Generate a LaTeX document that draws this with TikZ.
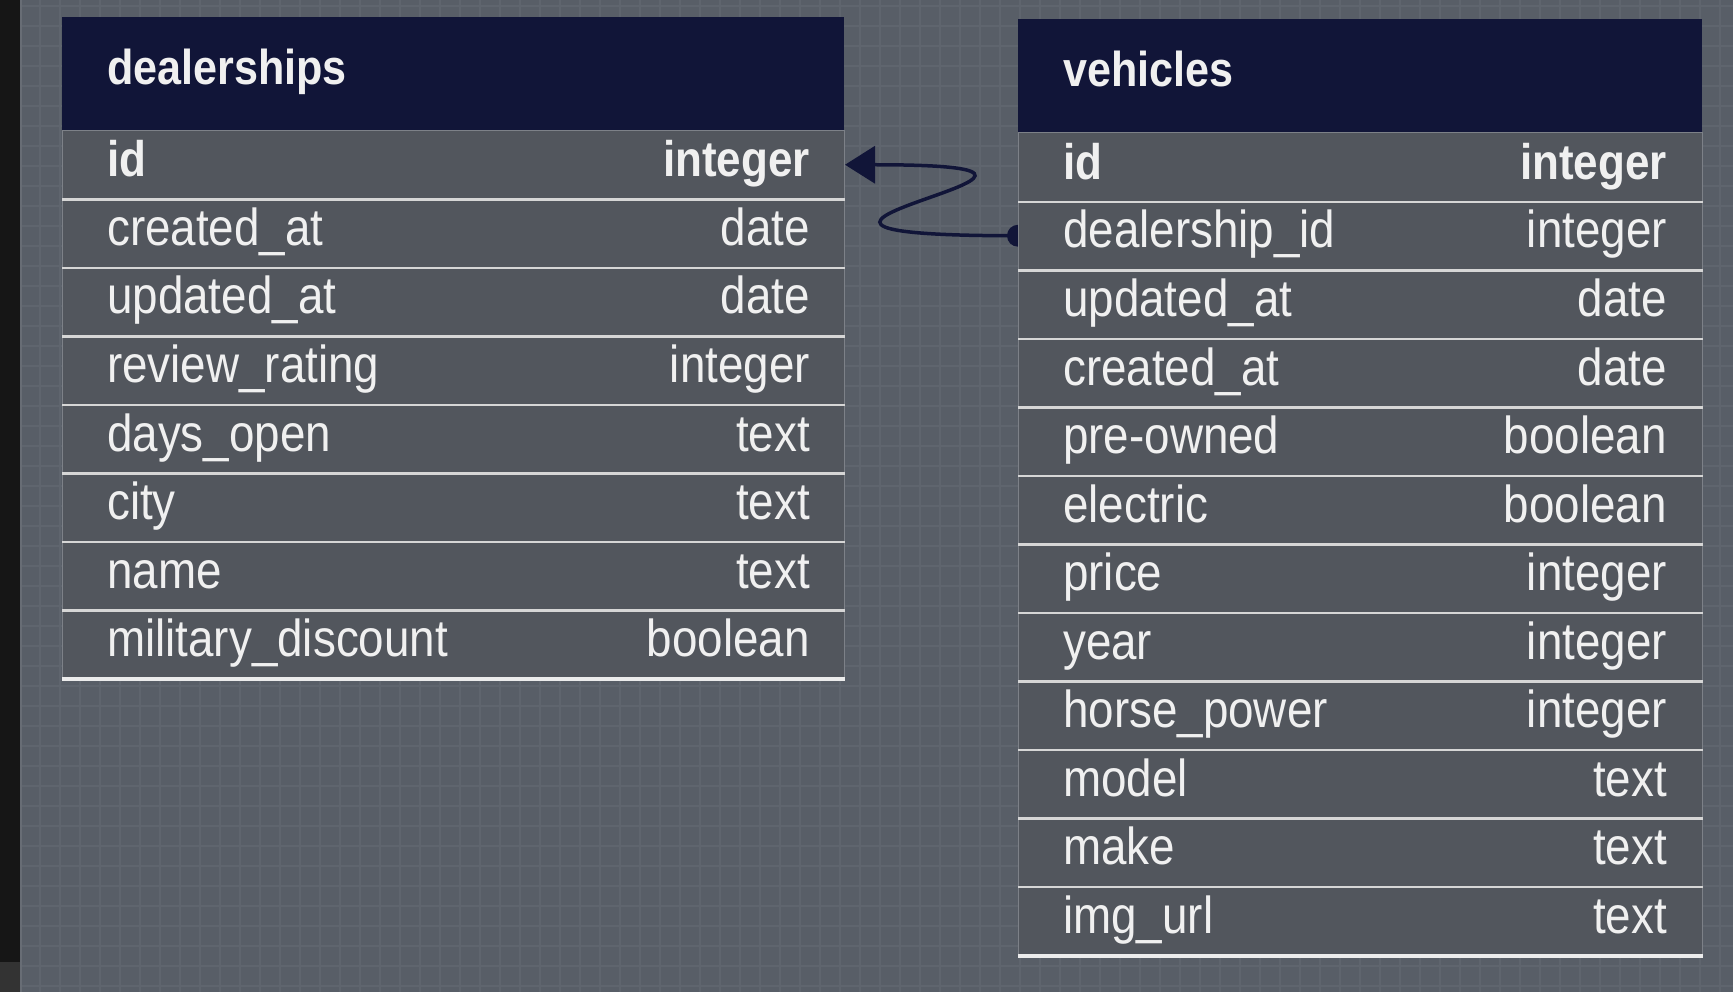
\documentclass[tikz,border=0pt]{standalone}
\usepackage{fontspec}
\setmainfont[FakeStretch=0.88]{Liberation Sans}
\usetikzlibrary{arrows.meta}

\definecolor{canvasbg}{RGB}{88,94,103}
\definecolor{gridcol}{RGB}{95,101,110}
\definecolor{stripdark}{RGB}{22,22,22}
\definecolor{stripgray}{RGB}{51,51,51}
\definecolor{stripedge}{RGB}{104,109,117}
\definecolor{headnavy}{RGB}{17,21,56}
\definecolor{rowgray}{RGB}{82,86,93}
\definecolor{rowedge}{RGB}{125,129,136}
\definecolor{sepwhite}{RGB}{214,214,214}
\definecolor{endwhite}{RGB}{236,236,236}
\definecolor{textwhite}{RGB}{240,240,240}

\newcommand\rowfont{\fontsize{52}{60}\selectfont}
\newcommand\keyfont{\fontsize{50}{60}\selectfont\bfseries}
\newcommand\titlefont{\fontsize{49}{60}\selectfont\bfseries}

\pgfdeclarelayer{canvas}
\pgfdeclarelayer{links}
\pgfsetlayers{canvas,links,main}

\tikzset{
  header/.style={fill=headnavy, inner sep=0pt, anchor=north west},
  rowbox/.style={fill=rowgray, draw=rowedge, line width=1pt, inner sep=0pt,
    anchor=north west, minimum height=68.5pt},
  sepline/.style={draw=sepwhite, line width=2.5pt},
  endline/.style={draw=endwhite, line width=4pt},
  tabletitle/.style={text=textwhite, font=\titlefont, anchor=base west, inner sep=0pt},
  colname/.style={text=textwhite, font=\rowfont, anchor=base west, inner sep=0pt},
  coltype/.style={text=textwhite, font=\rowfont, anchor=base east, inner sep=0pt},
  gridline/.style={draw=gridcol, line width=2pt},
  link/.style={draw=headnavy, line width=3.5pt},
}

\begin{document}
\begin{tikzpicture}[x=1pt, y=-1pt]
\useasboundingbox (0,0) rectangle (1733,992);

% canvas with its grid and the dark strip on the left
\begin{pgfonlayer}{canvas}
  \fill[canvasbg] (0,0) rectangle (1733,992);
  \foreach \gx in {40,60,...,1720} \draw[gridline] (\gx,0) -- (\gx,992);
  \foreach \gy in {6,26,...,986} \draw[gridline] (22,\gy) -- (1733,\gy);
  \fill[stripdark] (0,0) rectangle (20,962);
  \fill[stripgray] (0,962) rectangle (20,992);
  \fill[stripedge] (20,0) rectangle (22,992);
\end{pgfonlayer}

% table: dealerships
\node[header, minimum width=782pt, minimum height=113.5pt] (dhead) at (62,16.5) {};
\node[tabletitle] (dtitle) at ([xshift=45pt, yshift=-68.5pt]dhead.north west) {dealerships};
\foreach \n/\t [count=\i] in {id/integer, created\_at/date, updated\_at/date,
    review\_rating/integer, days\_open/text, city/text, name/text,
    military\_discount/boolean} {
  \node[rowbox, minimum width=782pt] (d\i) at (62,{130+(\i-1)*68.5}) {};
  \node[colname] (d\i-name) at ([xshift=45pt, yshift=-47pt]d\i.north west)
    {\ifnum\i=1 \keyfont\fi\n};
  \node[coltype] (d\i-type) at ([xshift=-35pt, yshift=-47pt]d\i.north east)
    {\ifnum\i=1 \keyfont\fi\t};
}
\foreach \i in {1,...,7} \draw[sepline] (d\i.south west) -- (d\i.south east);
\draw[endline] (d8.south west) -- (d8.south east);

% table: vehicles
\node[header, minimum width=684pt, minimum height=114pt] (vhead) at (1018,18.5) {};
\node[tabletitle] (vtitle) at ([xshift=45pt, yshift=-68.5pt]vhead.north west) {vehicles};
\foreach \n/\t [count=\i] in {id/integer, dealership\_id/integer, updated\_at/date,
    created\_at/date, pre-owned/boolean, electric/boolean, price/integer,
    year/integer, horse\_power/integer, model/text, make/text, img\_url/text} {
  \node[rowbox, minimum width=684pt] (v\i) at (1018,{132.5+(\i-1)*68.5}) {};
  \node[colname] (v\i-name) at ([xshift=45pt, yshift=-47pt]v\i.north west)
    {\ifnum\i=1 \keyfont\fi\n};
  \node[coltype] (v\i-type) at ([xshift=-36pt, yshift=-47pt]v\i.north east)
    {\ifnum\i=1 \keyfont\fi\t};
}
\foreach \i in {1,...,11} \draw[sepline] (v\i.south west) -- (v\i.south east);
\draw[endline] (v12.south west) -- (v12.south east);

% foreign key: vehicles.dealership_id -> dealerships.id
\begin{pgfonlayer}{links}
  \fill[headnavy] (v2.west) circle (11pt);
  \draw[link, -{Triangle[length=30pt, width=37pt]}]
    (v2.west) .. controls +(-375,0) and +(340,0) .. (d1.east);
\end{pgfonlayer}
\end{tikzpicture}
\end{document}
